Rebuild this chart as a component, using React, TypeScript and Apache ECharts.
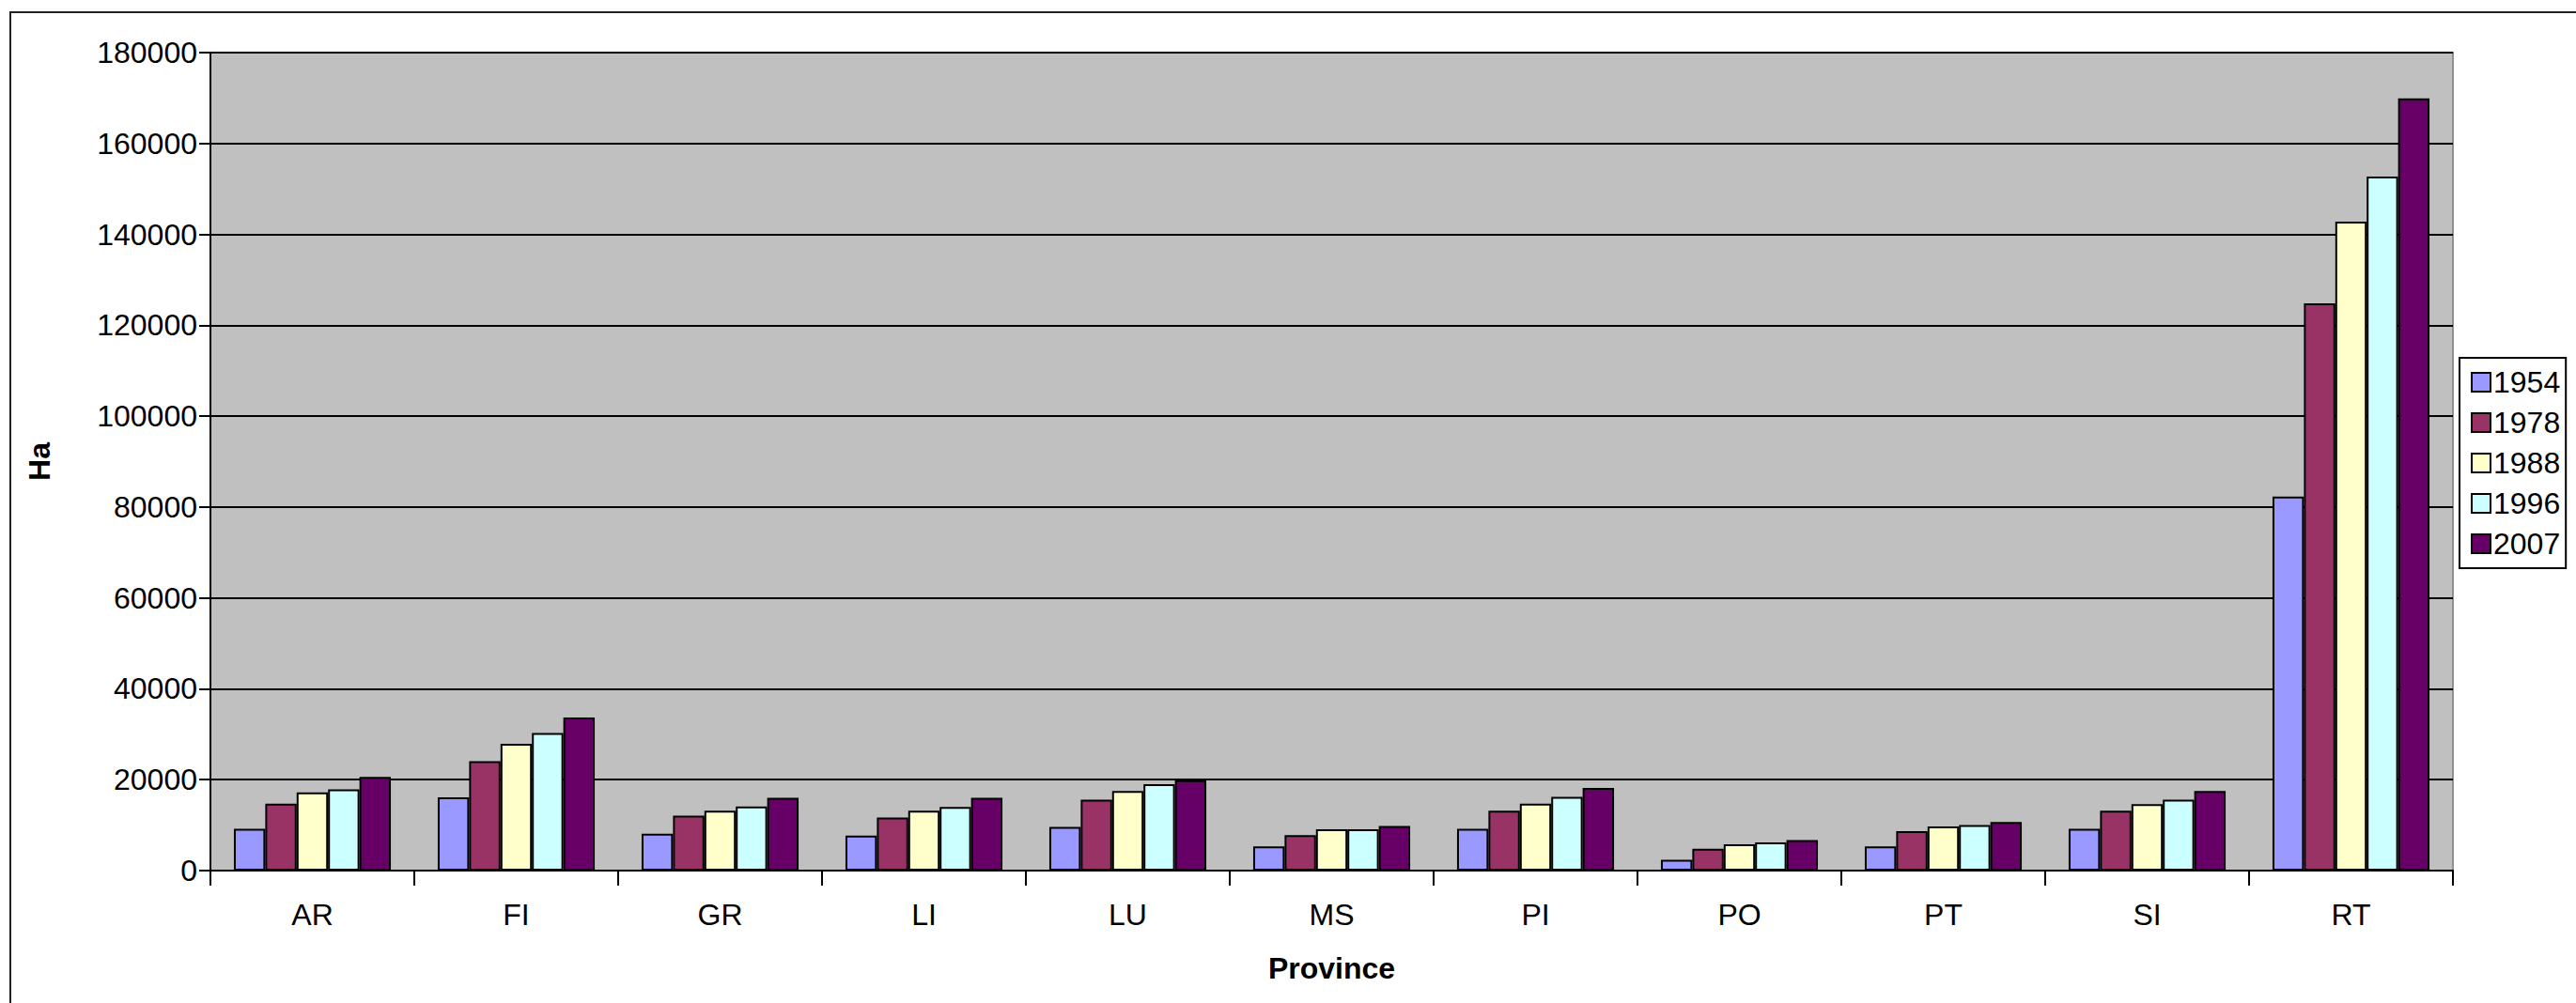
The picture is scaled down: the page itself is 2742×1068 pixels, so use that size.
import React, { useEffect, useRef } from "react";
import * as echarts from "echarts";

const provinces = ["AR", "FI", "GR", "LI", "LU", "MS", "PI", "PO", "PT", "SI", "RT"];
const years = ["1954", "1978", "1988", "1996", "2007"];
const colors = ["#9999FF", "#993366", "#FFFFCC", "#CCFFFF", "#660066"];

const v1954 = [9200, 16100, 8100, 7700, 9600, 5300, 9200, 2400, 5300, 9200, 82300];
const v1978 = [14700, 24100, 12100, 11700, 15600, 7800, 13200, 4800, 8700, 13200, 124800];
const v1988 = [17200, 27900, 13200, 13200, 17500, 9100, 14700, 5800, 9700, 14600, 142800];
const v1996 = [17900, 30300, 14100, 14000, 19000, 9100, 16200, 6200, 10000, 15600, 152700];
const v2007 = [20600, 33700, 16000, 16000, 19900, 9800, 18200, 6700, 10700, 17500, 169900];

const seriesValues = [v1954, v1978, v1988, v1996, v2007];

const yTicks = { min: 0, max: 180000, interval: 20000 };

export default function App() {
  const ref = useRef<HTMLDivElement>(null);

  useEffect(() => {
    if (!ref.current) return;
    const chart = echarts.init(ref.current, undefined, { renderer: "svg" });
    const font = "'Liberation Sans', Arial, sans-serif";
    chart.setOption({
      animation: false,
      backgroundColor: "#FFFFFF",
      textStyle: { fontFamily: font, color: "#000" },
      graphic: [
        {
          type: "rect",
          shape: { x: 11, y: 13, width: 2760, height: 1100 },
          style: { fill: "none", stroke: "#222", lineWidth: 2 },
          silent: true,
          z: -10,
        },
      ],
      grid: {
        left: 224,
        top: 56,
        right: 131,
        bottom: 141,
        show: true,
        backgroundColor: "#C0C0C0",
        borderColor: "#909090",
        borderWidth: 2,
      },
      legend: {
        orient: "vertical",
        left: 2618,
        top: 381,
        data: years,
        icon: "rect",
        itemWidth: 20,
        itemHeight: 20,
        itemGap: 11,
        padding: [10, 6, 10, 12],
        borderColor: "#000",
        borderWidth: 2,
        backgroundColor: "#FFFFFF",
        textStyle: { fontSize: 32, color: "#000", fontFamily: font, padding: [0, 0, 0, -2] },
      },
      xAxis: {
        type: "category",
        data: provinces,
        name: "Province",
        nameLocation: "middle",
        nameGap: 88,
        nameTextStyle: { fontSize: 32, fontWeight: "bold", color: "#000", fontFamily: font },
        axisLine: { lineStyle: { color: "#000", width: 2 } },
        axisTick: { show: true, length: 16, lineStyle: { color: "#000", width: 2 } },
        axisLabel: { fontSize: 32, color: "#000", margin: 31, fontFamily: font },
      },
      yAxis: {
        type: "value",
        min: yTicks.min,
        max: yTicks.max,
        interval: yTicks.interval,
        name: "Ha",
        nameLocation: "middle",
        nameGap: 166,
        nameRotate: 90,
        nameTextStyle: { fontSize: 32, fontWeight: "bold", color: "#000", fontFamily: font },
        axisLine: { show: true, lineStyle: { color: "#000", width: 2 } },
        axisTick: { show: true, length: 12, lineStyle: { color: "#000", width: 2 } },
        axisLabel: {
          fontSize: 32,
          color: "#000",
          margin: 14,
          fontFamily: font,
          formatter: (v: number) => String(v),
        },
        splitLine: { show: true, lineStyle: { color: "#000", width: 2 } },
      },
      series: years.map((y, i) => ({
        name: y,
        type: "bar",
        data: seriesValues[i],
        barGap: "0%",
        barCategoryGap: "23%",
        itemStyle: { color: colors[i], borderColor: "#000", borderWidth: 2 },
      })),
    });
    return () => chart.dispose();
  }, []);

  return (
    <div
      ref={ref}
      style={{ position: "fixed", left: 0, top: 0, width: 2742, height: 1068 }}
    />
  );
}
